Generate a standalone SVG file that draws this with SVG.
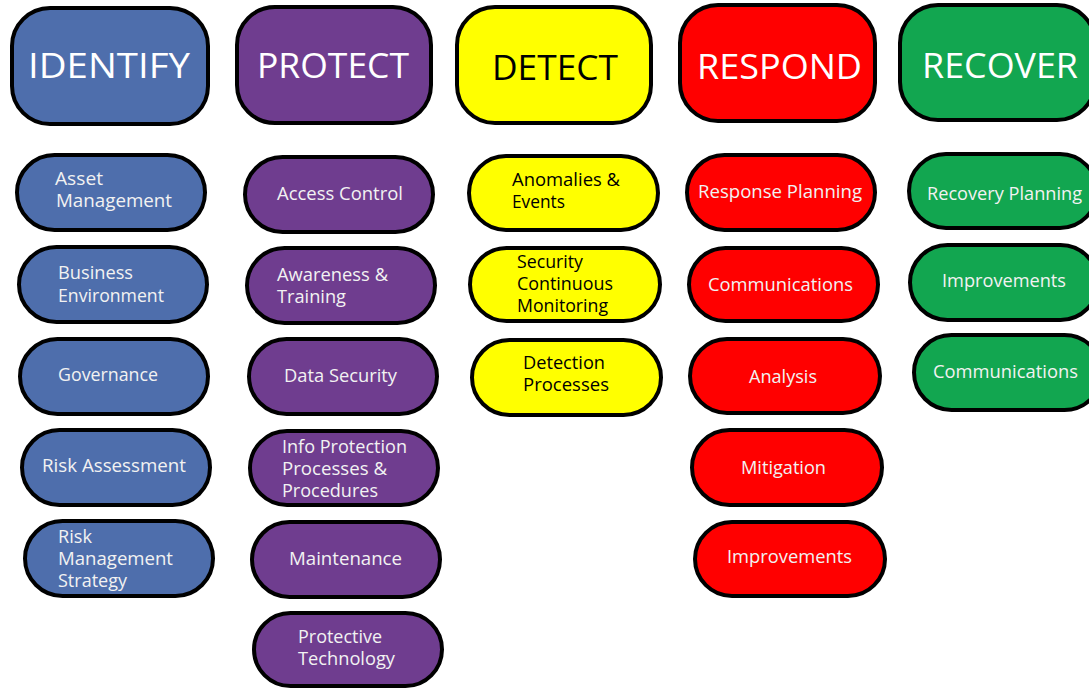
<svg xmlns="http://www.w3.org/2000/svg" width="1089" height="690" viewBox="0 0 1089 690">
<style>
.hd{stroke:#000;stroke-width:4}
.pl{stroke:#000;stroke-width:4}
.blue{fill:#4e6eac}
.purple{fill:#6f3d8f}
.yellow{fill:#ffff00}
.red{fill:#ff0000}
.green{fill:#12a650}
text{font-family:"Open Sans","Noto Sans","DejaVu Sans",sans-serif}
.ht{font-size:35px;fill:#ffffff}
.t{font-size:18px;fill:#f2f2f2}
.dk{fill:#000000}
</style>
<rect width="1089" height="690" fill="#ffffff"/>
<g id="connectors"/>
<!-- Headers -->
<g id="identify"><rect class="hd blue" x="12" y="8" width="196" height="116" rx="38"/><text class="ht" x="28" y="78" textLength="162" lengthAdjust="spacingAndGlyphs">IDENTIFY</text></g>
<g id="protect"><rect class="hd purple" x="237" y="7" width="194" height="116" rx="38"/><text class="ht" x="257" y="78" textLength="152" lengthAdjust="spacingAndGlyphs">PROTECT</text></g>
<g id="detect"><rect class="hd yellow" x="457" y="7" width="194" height="116" rx="38"/><text class="ht dk" x="492" y="80" textLength="126" lengthAdjust="spacingAndGlyphs">DETECT</text></g>
<g id="respond"><rect class="hd red" x="680" y="5" width="195" height="116" rx="38"/><text class="ht" x="697" y="79" textLength="165" lengthAdjust="spacingAndGlyphs">RESPOND</text></g>
<g id="recover"><rect class="hd green" x="900" y="5" width="195" height="115" rx="38"/><text class="ht" x="922" y="78" textLength="156" lengthAdjust="spacingAndGlyphs">RECOVER</text></g>
<!-- IDENTIFY items -->
<g id="asset-management"><rect class="pl blue" x="17" y="155" width="188" height="75" rx="37.5"/><text class="t" x="55" y="185" textLength="48" lengthAdjust="spacingAndGlyphs">Asset</text><text class="t" x="56" y="207" textLength="116" lengthAdjust="spacingAndGlyphs">Management</text></g>
<g id="business-environment"><rect class="pl blue" x="19" y="247" width="188" height="75" rx="37.5"/><text class="t" x="58" y="279" textLength="75" lengthAdjust="spacingAndGlyphs">Business</text><text class="t" x="58" y="302" textLength="106" lengthAdjust="spacingAndGlyphs">Environment</text></g>
<g id="governance"><rect class="pl blue" x="20" y="339" width="188" height="75" rx="37.5"/><text class="t" x="58" y="381" textLength="100" lengthAdjust="spacingAndGlyphs">Governance</text></g>
<g id="risk-assessment"><rect class="pl blue" x="22" y="430" width="188" height="75" rx="37.5"/><text class="t" x="42" y="472" textLength="144" lengthAdjust="spacingAndGlyphs">Risk Assessment</text></g>
<g id="risk-management-strategy"><rect class="pl blue" x="25" y="521" width="188" height="75" rx="37.5"/><text class="t" x="58" y="543" textLength="34" lengthAdjust="spacingAndGlyphs">Risk</text><text class="t" x="58" y="565" textLength="115" lengthAdjust="spacingAndGlyphs">Management</text><text class="t" x="58" y="587" textLength="69" lengthAdjust="spacingAndGlyphs">Strategy</text></g>
<!-- PROTECT items -->
<g id="access-control"><rect class="pl purple" x="245" y="157" width="188" height="75" rx="37.5"/><text class="t" x="277" y="200" textLength="126" lengthAdjust="spacingAndGlyphs">Access Control</text></g>
<g id="awareness-training"><rect class="pl purple" x="247" y="248" width="188" height="75" rx="37.5"/><text class="t" x="277" y="281" textLength="111" lengthAdjust="spacingAndGlyphs">Awareness &amp;</text><text class="t" x="277" y="303" textLength="69" lengthAdjust="spacingAndGlyphs">Training</text></g>
<g id="data-security"><rect class="pl purple" x="249" y="339" width="188" height="75" rx="37.5"/><text class="t" x="284" y="382" textLength="113" lengthAdjust="spacingAndGlyphs">Data Security</text></g>
<g id="info-protection"><rect class="pl purple" x="250" y="431" width="188" height="74" rx="37"/><text class="t" x="282" y="453" textLength="125" lengthAdjust="spacingAndGlyphs">Info Protection</text><text class="t" x="282" y="475" textLength="105" lengthAdjust="spacingAndGlyphs">Processes &amp;</text><text class="t" x="282" y="497" textLength="96" lengthAdjust="spacingAndGlyphs">Procedures</text></g>
<g id="maintenance"><rect class="pl purple" x="252" y="522" width="188" height="75" rx="37.5"/><text class="t" x="289" y="565" textLength="113" lengthAdjust="spacingAndGlyphs">Maintenance</text></g>
<g id="protective-technology"><rect class="pl purple" x="254" y="613" width="188" height="73" rx="36.5"/><text class="t" x="298" y="643" textLength="84" lengthAdjust="spacingAndGlyphs">Protective</text><text class="t" x="298" y="665" textLength="97" lengthAdjust="spacingAndGlyphs">Technology</text></g>
<!-- DETECT items -->
<g id="anomalies-events"><rect class="pl yellow" x="469" y="156" width="189" height="74" rx="37"/><text class="t dk" x="512" y="186" textLength="108" lengthAdjust="spacingAndGlyphs">Anomalies &amp;</text><text class="t dk" x="512" y="208" textLength="53" lengthAdjust="spacingAndGlyphs">Events</text></g>
<g id="security-continuous-monitoring"><rect class="pl yellow" x="470" y="248" width="190" height="73" rx="36.5"/><text class="t dk" x="517" y="268" textLength="66" lengthAdjust="spacingAndGlyphs">Security</text><text class="t dk" x="517" y="290" textLength="96" lengthAdjust="spacingAndGlyphs">Continuous</text><text class="t dk" x="517" y="312" textLength="91" lengthAdjust="spacingAndGlyphs">Monitoring</text></g>
<g id="detection-processes"><rect class="pl yellow" x="472" y="340" width="189" height="75" rx="37.5"/><text class="t dk" x="523" y="369" textLength="82" lengthAdjust="spacingAndGlyphs">Detection</text><text class="t dk" x="523" y="391" textLength="86" lengthAdjust="spacingAndGlyphs">Processes</text></g>
<!-- RESPOND items -->
<g id="response-planning"><rect class="pl red" x="687" y="155" width="188" height="75" rx="37.5"/><text class="t" x="698" y="198" textLength="164" lengthAdjust="spacingAndGlyphs">Response Planning</text></g>
<g id="communications-respond"><rect class="pl red" x="689" y="248" width="189" height="73" rx="36.5"/><text class="t" x="708" y="291" textLength="145" lengthAdjust="spacingAndGlyphs">Communications</text></g>
<g id="analysis"><rect class="pl red" x="690" y="339" width="190" height="74" rx="37"/><text class="t" x="749" y="383" textLength="68" lengthAdjust="spacingAndGlyphs">Analysis</text></g>
<g id="mitigation"><rect class="pl red" x="692" y="430" width="190" height="75" rx="37.5"/><text class="t" x="741" y="474" textLength="85" lengthAdjust="spacingAndGlyphs">Mitigation</text></g>
<g id="improvements-respond"><rect class="pl red" x="695" y="522" width="190" height="74" rx="37"/><text class="t" x="727" y="563" textLength="125" lengthAdjust="spacingAndGlyphs">Improvements</text></g>
<!-- RECOVER items -->
<g id="recovery-planning"><rect class="pl green" x="909" y="154" width="188" height="74" rx="37"/><text class="t" x="927" y="200" textLength="155" lengthAdjust="spacingAndGlyphs">Recovery Planning</text></g>
<g id="improvements-recover"><rect class="pl green" x="910" y="245" width="188" height="75" rx="37.5"/><text class="t" x="942" y="287" textLength="124" lengthAdjust="spacingAndGlyphs">Improvements</text></g>
<g id="communications-recover"><rect class="pl green" x="914" y="335" width="188" height="75" rx="37.5"/><text class="t" x="933" y="378" textLength="145" lengthAdjust="spacingAndGlyphs">Communications</text></g>
</svg>
